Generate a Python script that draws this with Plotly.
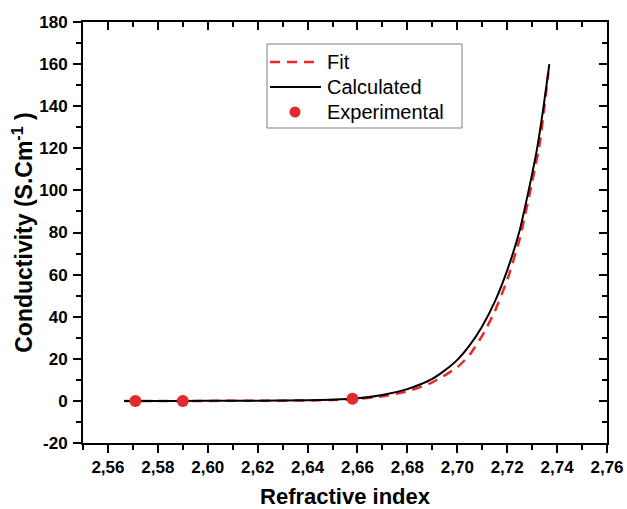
import plotly.graph_objects as go

# Calculated curve
calc_x = [2.5665, 2.58, 2.60, 2.62, 2.64, 2.65, 2.66, 2.67, 2.68, 2.685, 2.69, 2.695,
          2.70, 2.705, 2.71, 2.715, 2.72, 2.725, 2.7286, 2.732, 2.7346, 2.7369]
calc_y = [0.0, 0.0, 0.02, 0.08, 0.25, 0.55, 1.2, 2.8, 5.6, 7.8, 10.5, 14.5,
          19.5, 26.5, 35.5, 47.0, 62.0, 81.0, 100.0, 120.0, 140.0, 160.0]

# Fit curve (dashed)
fit_x = [2.5665, 2.60, 2.62, 2.64, 2.65, 2.66, 2.67, 2.68, 2.69, 2.70, 2.705,
         2.71, 2.715, 2.72, 2.725, 2.73, 2.733, 2.7365]
fit_y = [0.0, 0.01, 0.05, 0.2, 0.45, 1.0, 2.2, 4.6, 8.8, 16.0, 22.0,
         31.0, 42.5, 57.5, 77.0, 104.0, 122.0, 156.0]

# Experimental points
exp_x = [2.571, 2.590, 2.658]
exp_y = [0.0, 0.0, 1.0]

series_names = ["Fit", "Calculated", "Experimental"]

x_ticks = [2.56, 2.58, 2.60, 2.62, 2.64, 2.66, 2.68, 2.70, 2.72, 2.74, 2.76]
x_labels = ["2,56", "2,58", "2,60", "2,62", "2,64", "2,66", "2,68", "2,70",
            "2,72", "2,74", "2,76"]
y_ticks = [-20, 0, 20, 40, 60, 80, 100, 120, 140, 160, 180]
y_labels = ["-20", "0", "20", "40", "60", "80", "100", "120", "140", "160", "180"]

FONT = "Liberation Sans, Arial, sans-serif"
RED_LINE = "#e8282b"
RED_DOT = "#e32a2a"
DASH = "10px,7px"

W, H = 627, 509
ML, MR, MT, MB = 83, 20, 22, 66
PW, PH = W - ML - MR, H - MT - MB


def px(xp):
    return (xp - ML) / PW


def py(yp):
    return (H - MB - yp) / PH


fig = go.Figure()
fig.add_trace(go.Scatter(x=fit_x, y=fit_y, mode="lines", name=series_names[0],
                         showlegend=False,
                         line=dict(color=RED_LINE, width=2.5, dash=DASH,
                                   shape="spline", smoothing=0.6)))
fig.add_trace(go.Scatter(x=calc_x, y=calc_y, mode="lines", name=series_names[1],
                         showlegend=False,
                         line=dict(color="black", width=2,
                                   shape="spline", smoothing=0.6)))
fig.add_trace(go.Scatter(x=exp_x, y=exp_y, mode="markers", name=series_names[2],
                         showlegend=False,
                         marker=dict(color=RED_DOT, size=12)))
# invisible trace to activate the mirrored (top/right) axes
fig.add_trace(go.Scatter(x=[None], y=[None], xaxis="x2", yaxis="y2",
                         mode="lines", showlegend=False, hoverinfo="skip"))

# ---- legend box drawn by hand (to match the compact original layout) ----
shapes = [
    dict(type="rect", xref="paper", yref="paper",
         x0=px(267), x1=px(462), y0=py(128), y1=py(44),
         line=dict(color="#7f7f7f", width=1), fillcolor="white", layer="above"),
    dict(type="line", xref="paper", yref="paper",
         x0=px(270), x1=px(321), y0=py(62), y1=py(62),
         line=dict(color=RED_LINE, width=2.5, dash=DASH), layer="above"),
    dict(type="line", xref="paper", yref="paper",
         x0=px(270), x1=px(321), y0=py(87), y1=py(87),
         line=dict(color="black", width=2), layer="above"),
    dict(type="circle", xref="paper", yref="paper",
         xsizemode="pixel", ysizemode="pixel",
         xanchor=px(295), yanchor=py(112), x0=-5.5, x1=5.5, y0=-5.5, y1=5.5,
         line=dict(color=RED_DOT, width=0), fillcolor=RED_DOT, layer="above"),
]
annotations = []
for name, yy in zip(series_names, [62, 87, 112]):
    annotations.append(dict(xref="paper", yref="paper", x=px(325), y=py(yy),
                            xanchor="left", yanchor="middle", showarrow=False,
                            text=name, font=dict(size=20, family=FONT,
                                                 color="black")))

axis_common = dict(showgrid=False, zeroline=False, showline=True,
                   linecolor="black", linewidth=1.8, tickcolor="black",
                   tickwidth=1.5, ticklen=8, automargin=False)

fig.update_layout(
    width=W, height=H,
    margin=dict(l=ML, r=MR, t=MT, b=MB, autoexpand=False),
    paper_bgcolor="white", plot_bgcolor="white",
    font=dict(family=FONT, color="black"),
    showlegend=False,
    shapes=shapes,
    annotations=annotations,
    xaxis=dict(range=[2.55, 2.76], tickvals=x_ticks,
               ticktext=["<b>%s</b>" % t for t in x_labels],
               ticks="outside",
               tickfont=dict(size=17, family=FONT, weight="bold"),
               minor=dict(ticks="outside", dtick=0.01, tick0=2.55, ticklen=5,
                          tickwidth=1.5, tickcolor="black"),
               title=dict(text="<b>Refractive index</b>", font=dict(size=22),
                          standoff=12),
               **axis_common),
    yaxis=dict(range=[-20, 180], tickvals=y_ticks,
               ticktext=["<b>%s</b>" % t for t in y_labels],
               ticks="outside", ticklabelstandoff=2,
               tickfont=dict(size=17, family=FONT, weight="bold"),
               minor=dict(ticks="outside", dtick=10, tick0=-20, ticklen=5,
                          tickwidth=1.5, tickcolor="black"),
               title=dict(text="<b>Conductivity (S.Cm<sup>-1</sup> )</b>",
                          font=dict(size=23), standoff=0),
               **axis_common),
    xaxis2=dict(range=[2.55, 2.76], overlaying="x", side="top", anchor="y",
                tickvals=x_ticks, ticks="inside", showticklabels=False,
                minor=dict(ticks="inside", dtick=0.01, tick0=2.55, ticklen=5,
                           tickwidth=1.5, tickcolor="black"),
                **axis_common),
    yaxis2=dict(range=[-20, 180], overlaying="y", side="right", anchor="x",
                tickvals=y_ticks, ticks="inside", showticklabels=False,
                minor=dict(ticks="inside", dtick=10, tick0=-20, ticklen=5,
                           tickwidth=1.5, tickcolor="black"),
                **axis_common),
)

fig.write_html("out.html",
               config={"displayModeBar": False},
               post_script="document.body.style.margin='0';"
                           "document.body.style.overflow='hidden';")
